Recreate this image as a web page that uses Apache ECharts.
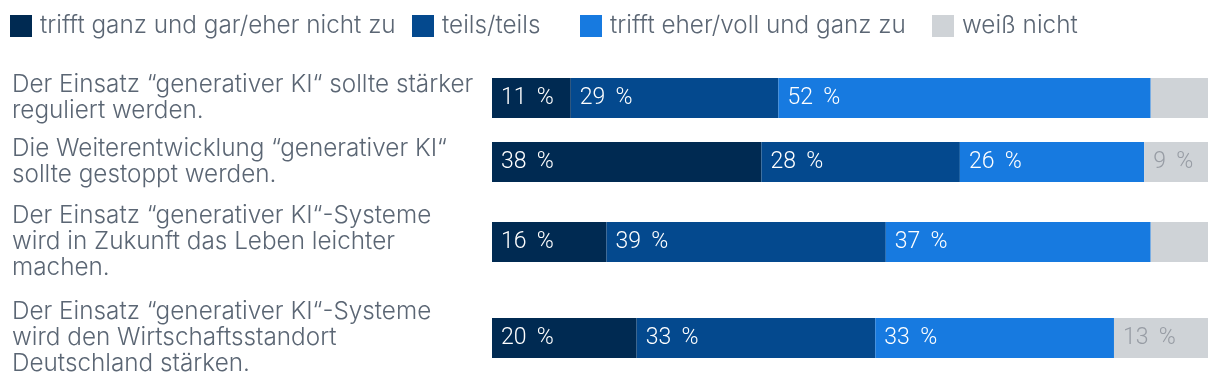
<!DOCTYPE html>
<html>
<head>
<meta charset="utf-8">
<script src="https://cdn.jsdelivr.net/npm/echarts@6/dist/echarts.min.js"></script>
<style>
  html, body { margin: 0; padding: 0; background: #ffffff; }
  #chart { width: 1220px; height: 392px; }
</style>
</head>
<body>
<div id="chart"></div>
<script>
// ---- data ----
const categories = [
  "Der Einsatz “generativer KI“ sollte stärker\nreguliert werden.",
  "Die Weiterentwicklung “generativer KI“\nsollte gestoppt werden.",
  "Der Einsatz “generativer KI“-Systeme\nwird in Zukunft das Leben leichter\nmachen.",
  "Der Einsatz “generativer KI“-Systeme\nwird den Wirtschaftsstandort\nDeutschland stärken."
];
const seriesNames = ["trifft ganz und gar/eher nicht zu", "teils/teils", "trifft eher/voll und ganz zu", "weiß nicht"];
const nichtZu   = [11, 38, 16, 20];
const teilsTeils = [29, 28, 39, 33];
const zu        = [52, 26, 37, 33];
const weissNicht = [8, 9, 8, 13];
const minLabelValue = 9;

// ---- styles ----
const colors = ["#002a52", "#04498e", "#177ae0", "#cfd3d7"];
const labelColors = ["#ffffff", "#ffffff", "#ffffff", "#979ca4"];
const textColor = "#5b6674";
const gridTops = [78, 142, 222, 318];
const legendLefts = [10, 412, 580, 932];
const barH = 40;

const values = [nichtZu, teilsTeils, zu, weissNicht];

const grids = [], xAxes = [], yAxes = [], series = [];
categories.forEach((cat, i) => {
  const total = values.reduce((s, arr) => s + arr[i], 0);
  grids.push({ left: 492, right: 12, top: gridTops[i], height: barH, containLabel: false });
  xAxes.push({ type: 'value', gridIndex: i, min: 0, max: total, show: false });
  yAxes.push({
    type: 'category', gridIndex: i, data: [cat],
    axisLine: { show: false }, axisTick: { show: false }, splitLine: { show: false },
    axisLabel: {
      margin: 480, align: 'left', verticalAlign: 'middle',
      fontFamily: 'Inter', fontWeight: 300, fontSize: 24.3, lineHeight: 26, color: textColor
    }
  });
  values.forEach((arr, j) => {
    series.push({
      type: 'bar', name: seriesNames[j], xAxisIndex: i, yAxisIndex: i,
      stack: 'row' + i, barWidth: barH, data: [arr[i]],
      itemStyle: { color: colors[j] },
      label: {
        show: true, position: 'insideLeft', distance: 9,
        fontFamily: 'Roboto', fontWeight: 300, fontSize: 23, color: labelColors[j],
        formatter: p => (p.value >= minLabelValue || j < 3) ? p.value + '\u00a0\u2009%' : ''
      },
      emphasis: { disabled: true }
    });
  });
});

const legends = seriesNames.map((name, j) => ({
  data: [name], left: legendLefts[j], top: 14, padding: 0, icon: 'rect',
  itemWidth: 22, itemHeight: 22,
  textStyle: { fontFamily: 'Inter', fontWeight: 300, fontSize: 24.3, color: textColor, padding: [0, 0, 0, 3] }
}));

const chart = echarts.init(document.getElementById('chart'), null, { renderer: 'canvas' });
chart.setOption({
  animation: false,
  color: colors,
  legend: legends,
  grid: grids, xAxis: xAxes, yAxis: yAxes, series: series
});
</script>
</body>
</html>
